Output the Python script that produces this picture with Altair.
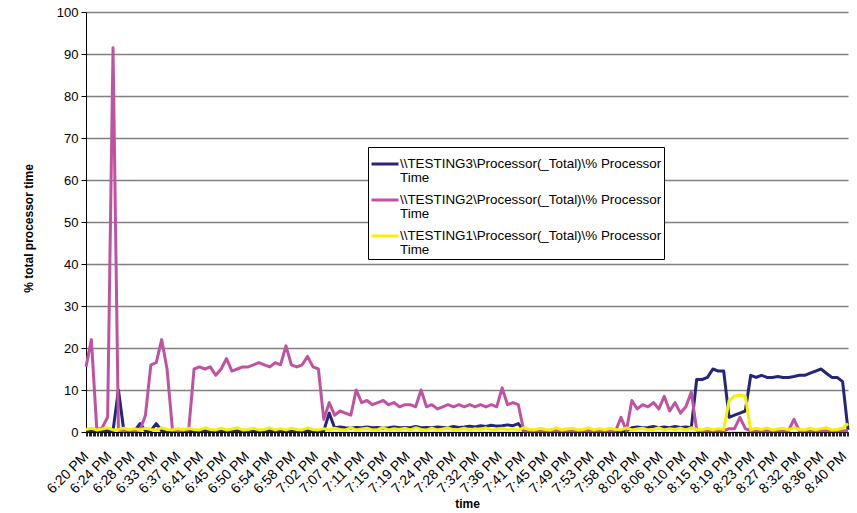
import json
import altair as alt
import pandas as pd

FONT = "Liberation Sans"

series_names = [
    r"\\TESTING3\Processor(_Total)\% Processor Time",
    r"\\TESTING2\Processor(_Total)\% Processor Time",
    r"\\TESTING1\Processor(_Total)\% Processor Time",
]
series_colors = ["#262678", "#C052A2", "#F5F000"]

tick_labels = [
    "6:20 PM", "6:24 PM", "6:28 PM", "6:33 PM", "6:37 PM", "6:41 PM", "6:45 PM",
    "6:50 PM", "6:54 PM", "6:58 PM", "7:02 PM", "7:07 PM", "7:11 PM", "7:15 PM",
    "7:19 PM", "7:24 PM", "7:28 PM", "7:32 PM", "7:36 PM", "7:41 PM", "7:45 PM",
    "7:49 PM", "7:53 PM", "7:58 PM", "8:02 PM", "8:06 PM", "8:10 PM", "8:15 PM",
    "8:19 PM", "8:23 PM", "8:27 PM", "8:32 PM", "8:36 PM", "8:40 PM",
]

# sample times: minutes after 6:20:15 PM, one sample per minute
minutes = list(range(142))

testing3 = [
    0.3, 0.3, 0.3, 0.3, 0.3, 0.3, 10, 0.3, 0.3, 0.3,
    2, 0.3, 0.3, 2, 0.3, 0.3, 0.3, 0.3, 0.3, 0.3,
    0.3, 0.3, 0.3, 0.3, 0.3, 0.3, 0.3, 0.3, 0.3, 0.3,
    0.3, 0.3, 0.3, 0.3, 0.3, 0.3, 0.3, 0.3, 0.3, 0.3,
    0.3, 0.3, 0.3, 0.3, 0.3, 4.5, 1, 1.2, 1, 0.9,
    1.1, 1, 1.2, 1, 1.1, 0.9, 1, 1.2, 1, 1.1,
    1, 1.3, 1, 1.1, 1, 1.2, 1.1, 1, 1.3, 1.1,
    1.2, 1.4, 1.2, 1.5, 1.3, 1.6, 1.4, 1.5, 1.7, 1.5,
    2, 0.3, 0.3, 0.3, 0.3, 0.3, 0.3, 0.3, 0.3, 0.3,
    0.3, 0.3, 0.3, 0.3, 0.3, 0.3, 0.3, 0.3, 0.3, 0.3,
    0.3, 1, 1.2, 1, 1.1, 1.3, 1, 1.2, 1, 1.3,
    1.1, 1.2, 1, 12.5, 12.5, 13, 15, 14.5, 14.5, 3.5,
    4, 4.5, 5, 13.5, 13, 13.5, 13, 13, 13.2, 13,
    13, 13.2, 13.5, 13.5, 14, 14.5, 15, 14, 13, 13,
    12, 0.5,
]

testing2 = [
    15.5, 22, 0.5, 1, 3.5, 91.5, 0.5, 0.3, 0.5, 0.3,
    0.5, 4, 16, 16.5, 22, 15, 0.5, 0.3, 0.5, 0.5,
    15, 15.5, 15, 15.5, 13.5, 15, 17.5, 14.5, 15, 15.5,
    15.5, 16, 16.5, 16, 15.5, 16.5, 16, 20.5, 16, 15.5,
    16, 18, 15.5, 15, 3, 7, 4, 5, 4.5, 4,
    10, 7, 7.5, 6.5, 7, 7.5, 6.5, 7, 6, 6.5,
    6.5, 6, 10, 6, 6.5, 5.5, 6, 6.5, 6, 6.5,
    6, 6.5, 6, 6.5, 6, 6.5, 6, 10.5, 6.5, 7,
    6.5, 0.3, 0.3, 0.3, 0.3, 0.3, 0.3, 0.3, 0.3, 0.3,
    0.3, 0.3, 0.3, 0.3, 0.3, 0.3, 0.3, 0.3, 0.3, 3.5,
    0.3, 7.5, 5.5, 6.5, 6, 7, 5.5, 8.5, 5, 7,
    4.5, 6, 9.5, 0.5, 0.3, 0.3, 0.3, 0.3, 0.3, 0.8,
    0.8, 3.5, 0.8, 0.3, 0.3, 0.3, 0.3, 0.3, 0.3, 0.3,
    0.3, 3, 0.3, 0.3, 0.3, 0.3, 0.3, 0.3, 0.3, 0.3,
    0.3, 0.3,
]

testing1 = [
    0.6, 0.9, 0.5, 0.7, 1.0, 0.5, 0.6, 0.9, 0.5, 0.8,
    0.5, 0.9, 0.6, 0.5, 1.0, 0.6, 0.5, 0.8, 0.5, 0.9,
    0.6, 0.5, 1.0, 0.6, 0.5, 0.9, 0.5, 0.7, 1.0, 0.5,
    0.6, 0.9, 0.5, 0.6, 1.0, 0.5, 0.8, 0.5, 0.9, 0.6,
    0.5, 1.0, 0.6, 0.5, 0.8, 0.5, 0.9, 0.6, 0.5, 1.0,
    0.5, 0.7, 0.9, 0.5, 0.6, 1.0, 0.5, 0.8, 0.6, 0.9,
    0.5, 1.0, 0.6, 0.5, 0.9, 0.5, 0.7, 1.0, 0.5, 0.6,
    0.9, 0.5, 0.8, 0.6, 1.0, 0.5, 0.6, 0.9, 0.5, 0.8,
    0.5, 1.0, 0.6, 0.5, 0.9, 0.6, 0.5, 1.0, 0.5, 0.7,
    0.9, 0.5, 0.6, 1.0, 0.5, 0.8, 0.5, 0.9, 0.6, 0.5,
    1.0, 0.5, 0.7, 0.9, 0.5, 0.6, 1.0, 0.5, 0.8, 0.6,
    0.9, 0.5, 1.0, 0.6, 0.5, 0.9, 0.5, 0.8, 0.6, 7.5,
    8.5, 8.8, 8.5, 0.5, 0.9, 0.6, 1.0, 0.5, 0.7, 0.9,
    0.5, 1.0, 0.6, 0.5, 0.9, 0.5, 0.8, 1.0, 0.5, 0.6,
    0.9, 2.0,
]

series_values = [testing3, testing2, testing1]

# one category tick every 15 seconds; a label every 17 ticks
tick_vals = [i / 4 for i in range(565)]
label_expr = (
    "(round(datum.value*4) % 17 == 0) ? ("
    + json.dumps(tick_labels)
    + "[round(datum.value*4)/17] || '') : ''"
)

x_axis = alt.Axis(
    values=tick_vals, grid=False, labelExpr=label_expr, labelAngle=315,
    labelOverlap=False, labelFlush=False, labelFont=FONT, labelFontSize=14,
    labelColor="black", labelPadding=13, labelOffset=-5, tickSize=4, tickColor="#222222",
    tickWidth=1, domainColor="black", domainWidth=1,
    titleFont=FONT, titleFontSize=12, titleFontWeight="bold", titleColor="black",
    titleY=71, titleBaseline="middle",
)
y_axis = alt.Axis(
    values=list(range(0, 101, 10)), grid=True, gridColor="#808080", gridWidth=1.5,
    labelFont=FONT, labelFontSize=13, labelColor="black", labelPadding=3,
    tickSize=5, tickColor="black", domainColor="black", domainWidth=1,
    titleFont=FONT, titleFontSize=12, titleFontWeight="bold", titleColor="black",
    titleX=-58, titleY=216, titleBaseline="middle",
)
legend = alt.Legend(
    title=None, orient="none", legendX=282, legendY=135, direction="vertical",
    symbolType="stroke", symbolSize=729, symbolStrokeWidth=3,
    labelFont=FONT, labelFontSize=13.4, labelColor="black", labelLimit=400,
    labelExpr="[replace(datum.label, ' Time', ''), 'Time']", labelOffset=0,
    fillColor="white", strokeColor="black", padding=2, rowPadding=-2,
)

layers = []
for name, vals in zip(series_names, series_values):
    df = pd.DataFrame({"minute": minutes, "value": vals, "series": name})
    layers.append(
        alt.Chart(df).mark_line(strokeWidth=3, strokeJoin="round").encode(
            x=alt.X("minute:Q", scale=alt.Scale(domain=[0, 141], nice=False, zero=False),
                    axis=x_axis, title="time"),
            y=alt.Y("value:Q", scale=alt.Scale(domain=[0, 100], nice=False),
                    axis=y_axis, title="% total processor time"),
            color=alt.Color("series:N", scale=alt.Scale(domain=series_names, range=series_colors),
                            legend=legend),
        )
    )

chart = alt.layer(*layers).properties(
    width=762, height=420,
    autosize=alt.AutoSizeParams(type="none"),
    padding={"left": 86, "top": 12, "right": 9, "bottom": 81},
    background="white",
).configure(
    style={"guide-label": {"lineHeight": 14}}
).configure_view(stroke=None)

chart.save("out.html", embed_options={"renderer": "svg", "actions": False})
